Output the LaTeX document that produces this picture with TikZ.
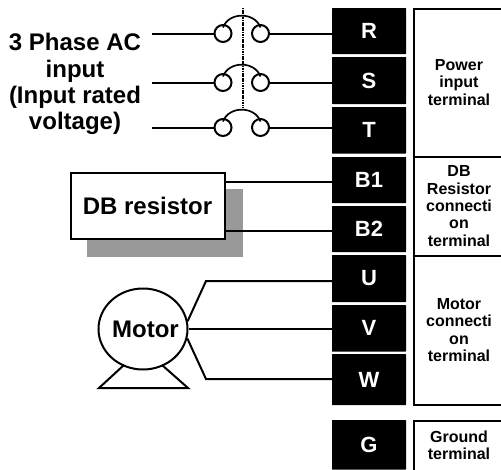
\documentclass[tikz,border=0pt]{standalone}
\usepackage{fontspec}
\setmainfont{Liberation Sans}
\usetikzlibrary{shapes.geometric}
\tikzset{
    wire/.style={line width=2pt},
    term/.style={fill=black, text=white, font=\fontsize{22}{24}\bfseries\selectfont, minimum width=74pt, inner sep=0pt, rounded corners=.5pt},
    contact/.style={circle, draw, line width=2pt, minimum size=17pt, inner sep=0pt},
    biglabel/.style={font=\fontsize{24}{26.3}\bfseries\selectfont, align=center, inner sep=0pt},
    sidelabel/.style={font=\fontsize{16}{17.4}\bfseries\selectfont, align=center, inner sep=0pt}
}
\begin{document}
\begin{tikzpicture}[x=1pt, y=-1pt]
            \useasboundingbox (0, 0) rectangle (501, 469);

            \foreach \t/\ytop/\ybot in {R/8/54, S/57/104, T/107/153.5, B1/157/203, B2/206/252, U/255/302, V/305/351.5, W/354/405, G/420/469.5} {
                \node[term, minimum height=\ybot pt-\ytop pt] (\t) at (369, {(\ytop+\ybot)/2}) {\t};
            }

            \foreach \ytop/\ybot in {8.5/157, 157/255.5, 255.5/404.5} {
                \draw[wire] (504, \ytop) -- (414, \ytop) -- (414, \ybot) -- (504, \ybot);
            }
            \draw[wire] (504, 421) -- (414, 421) -- (414, 472);

            \node[sidelabel] (power) at (459, 82.5) {Power\\input\\terminal};
            \node[sidelabel] (dbterm) at (459, 206) {DB\\Resistor\\connecti\\on\\terminal};
            \node[sidelabel] (motorterm) at (459, 330) {Motor\\connecti\\on\\terminal};
            \node[sidelabel] (ground) at (459, 445.5) {Ground\\terminal};

            \node[biglabel] (ac) at (75, 84) {3 Phase AC\\input\\(Input rated\\voltage)};

            \foreach \i/\y/\t in {1/33.5/R, 2/82.5/S, 3/127.5/T} {
                \coordinate (in\i) at (152, \y);
                \node[contact] (l\i) at (223, \y) {};
                \node[contact] (r\i) at (260.5, \y) {};
                \draw[wire] (in\i) -- (l\i);
                \draw[wire] (r\i) -- (r\i -| \t.west);
                \draw[line width=1.7pt] ([yshift=-3.5pt]l\i.north) to[out=70, in=110, looseness=1.15] ([yshift=-3.5pt]r\i.north);
            }

            \coordinate (linktop) at (243, 8);
            \coordinate (linkbot) at (243, 107);
            \draw[line width=1.6pt, dash pattern=on 1.2pt off .5pt] (linktop) -- (linkbot);

            \node[fill=black!40, minimum width=156pt, minimum height=68pt, inner sep=0pt] (shadow) at (165, 223) {};
            \node[draw, fill=white, line width=2pt, minimum width=154pt, minimum height=66.5pt, inner sep=0pt, font=\fontsize{24}{26}\bfseries\selectfont] (db) at (147.5, 206) {DB resistor};
            \foreach \t/\y in {B1/182, B2/231} {
                \coordinate (d\t) at (db.east |- 0, \y);
                \draw[wire] (d\t) -- (d\t -| \t.west);
            }

            \node[ellipse, draw, line width=2pt, minimum width=89pt, minimum height=81pt, inner sep=0pt] (motor) at (143, 329) {};
            \node[font=\fontsize{24}{26}\bfseries\selectfont, inner sep=0pt] (motorlabel) at (145.5, 329) {Motor};
            \coordinate (ubend) at (206, 281);
            \coordinate (wbend) at (206, 379);
            \draw[wire] (motor.10) -- (ubend) -- (ubend -| U.west);
            \draw[wire] (motor.east) -- (motor.east -| V.west);
            \draw[wire] (motor.-12) -- (wbend) -- (wbend -| W.west);

            \coordinate (foota) at (124, 365);
            \coordinate (footb) at (99, 388);
            \coordinate (footc) at (188, 388);
            \coordinate (footd) at (162, 365);
            \draw[wire] (foota) -- (footb) -- (footc) -- (footd);
        \end{tikzpicture}
\end{document}
